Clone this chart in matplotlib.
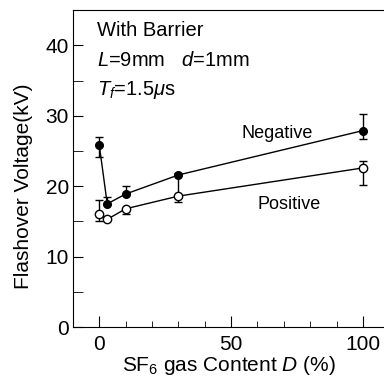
import matplotlib.pyplot as plt
from matplotlib.ticker import MultipleLocator

# SF6 content (%) vs flashover voltage (kV)
sf6 = [0, 3, 10, 30, 100]
neg_v = [25.8, 17.5, 18.9, 21.6, 27.9]
neg_lo = [1.7, 0.0, 0.0, 2.9, 1.2]
neg_hi = [1.2, 1.0, 1.1, 0.3, 2.3]
pos_v = [16.0, 15.3, 16.8, 18.6, 22.6]
pos_lo = [1.0, 0.0, 0.8, 0.9, 2.4]
pos_hi = [2.0, 0.0, 0.0, 0.0, 1.0]

plt.rcParams["font.family"] = ["Liberation Sans", "DejaVu Sans"]
plt.rcParams["mathtext.fontset"] = "custom"
plt.rcParams["mathtext.rm"] = "Liberation Sans"
plt.rcParams["mathtext.it"] = "Liberation Sans:italic"

fig = plt.figure(figsize=(3.84, 3.76), dpi=100)
ax = fig.add_axes([0.19, 0.13, 0.81, 0.843])

#negative polarity (filled)
ax.errorbar(sf6, neg_v, yerr=[neg_lo, neg_hi], color="black", lw=1,
            marker="o", ms=5.5, mfc="black", mec="black",
            capsize=3, elinewidth=1, capthick=1)
#positive polarity (open)
ax.errorbar(sf6, pos_v, yerr=[pos_lo, pos_hi], color="black", lw=1,
            marker="o", ms=6, mfc="white", mec="black",
            capsize=3, elinewidth=1, capthick=1)

ax.set_xlim(-10, 108)
ax.set_ylim(0, 45)
ax.xaxis.set_major_locator(MultipleLocator(50))
ax.xaxis.set_minor_locator(MultipleLocator(10))
ax.set_yticks([0, 10, 20, 30, 40])
ax.yaxis.set_minor_locator(MultipleLocator(5))
ax.tick_params(which="both", direction="in", labelsize=15, top=False, right=False)
ax.tick_params(axis="y", which="both", length=7, pad=3)
ax.tick_params(axis="x", which="major", length=8, pad=6)
ax.tick_params(axis="x", which="minor", length=4)
ax.spines["right"].set_visible(False)

ax.set_xlabel(r"SF$_6$ gas Content $\it{D}$ (%)", fontsize=15, labelpad=0)
ax.set_ylabel("Flashover Voltage(kV)", fontsize=15)
ax.yaxis.set_label_coords(-0.13, 0.443)

ax.text(-0.9, 42.1, "With Barrier", fontsize=14.5, va="center")
ax.text(-0.9, 37.8, r"$\it{L}$=9mm   $\it{d}$=1mm", fontsize=14.5, va="center")
ax.text(-0.9, 33.6, r"$\it{T_f}$=1.5$\mu$s", fontsize=14.5, va="center")
ax.text(67.5, 27.5, "Negative", fontsize=13, ha="center", va="center")
ax.text(72, 17.4, "Positive", fontsize=13, ha="center", va="center")

plt.savefig("out.png", dpi=100)
